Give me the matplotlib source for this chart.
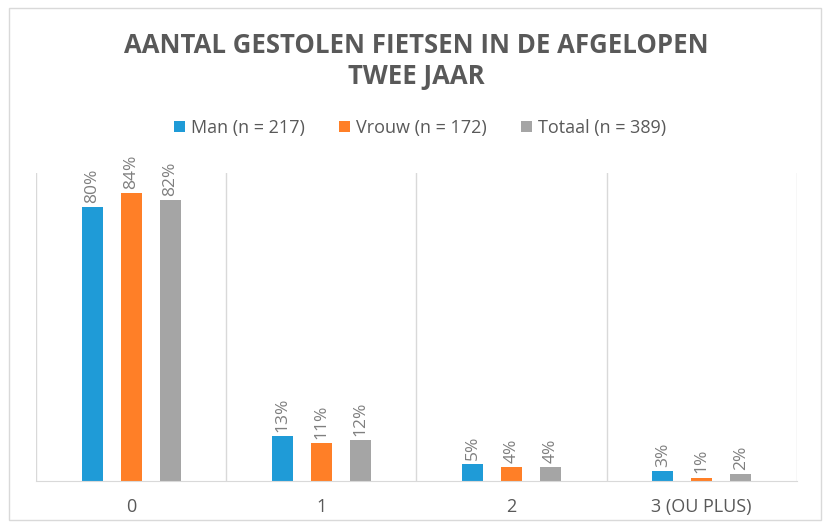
import matplotlib.pyplot as plt
import numpy as np
from matplotlib.patches import Rectangle

categories = ['0', '1', '2', '3 (OU PLUS)']
series_names = ['Man (n = 217)', 'Vrouw (n = 172)', 'Totaal (n = 389)']
man = [80, 13, 5, 3]
vrouw = [84, 11, 4, 1]
totaal = [82, 12, 4, 2]
colors = ['#1F9BD7', '#FF7F27', '#A5A5A5']

plt.rcParams['font.family'] = ['Open Sans', 'DejaVu Sans']

fig = plt.figure(figsize=(8.27, 5.27), dpi=100)
ax = fig.add_axes([0.0435, 0.0873, 0.920, 0.585])

x = np.arange(len(categories))
offsets = [-0.205, 0.0, 0.205]
width = 0.11

for vals, name, col, off in zip([man, vrouw, totaal], series_names, colors, offsets):
    bars = ax.bar(x + off, vals, width, color=col, label=name, zorder=2)
    for b, v in zip(bars, vals):
        ax.annotate(f'{v}%', (b.get_x() + b.get_width() / 2, b.get_height()),
                    xytext=(0, 3), textcoords='offset points', rotation=90,
                    ha='center', va='bottom', fontsize=12.5, color='#7F7F7F')

ax.set_xlim(-0.5, 3.5)
ax.set_ylim(0, 90)
ax.set_yticks([])
for s in ['top', 'right', 'left']:
    ax.spines[s].set_visible(False)
ax.spines['bottom'].set_color('#D9D9D9')
for b in np.arange(-0.5, 4.0, 1.0):
    ax.axvline(b, color='#D9D9D9', lw=1, zorder=0)

ax.set_xticks(x, categories)
ax.tick_params(axis='x', length=0, pad=12, labelsize=13, labelcolor='#595959')

fig.text(0.503, 0.884, 'AANTAL GESTOLEN FIETSEN IN DE AFGELOPEN\nTWEE JAAR',
         ha='center', va='center', fontsize=18.5, fontweight='bold',
         color='#595959', linespacing=1.2)

fig.legend(loc='center', bbox_to_anchor=(0.508, 0.757), ncol=3, frameon=False,
           handlelength=0.6, handleheight=0.6, handletextpad=0.35,
           columnspacing=1.9, fontsize=13, labelcolor='#595959')

fig.patches.append(Rectangle((0.011, 0.013), 0.982, 0.972, transform=fig.transFigure,
                             fill=False, edgecolor='#D9D9D9', lw=1))

fig.savefig('out.png', dpi=100)
